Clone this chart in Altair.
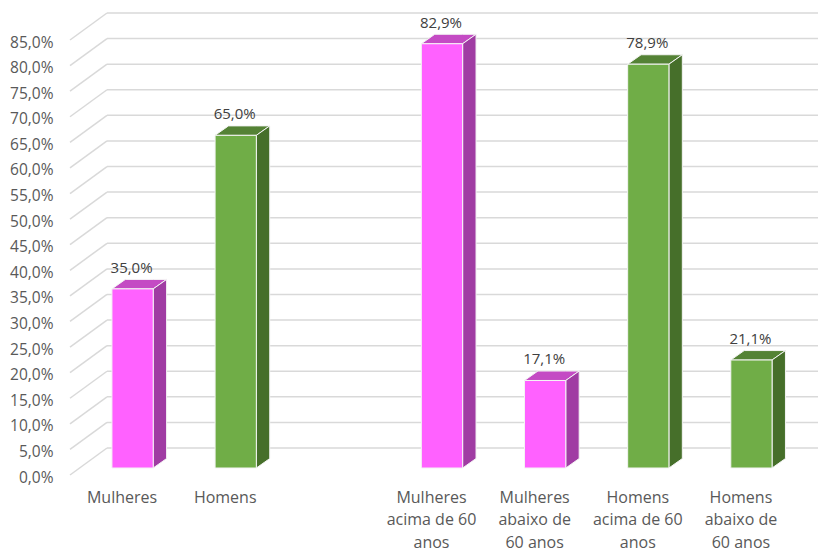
import altair as alt
import pandas as pd

# ---- data ----
categories = [
    "Mulheres",
    "Homens",
    "",
    "Mulheres\nacima de 60\nanos",
    "Mulheres\nabaixo de\n60 anos",
    "Homens\nacima de 60\nanos",
    "Homens\nabaixo de\n60 anos",
]
values = [35.0, 65.0, None, 82.9, 17.1, 78.9, 21.1]
groups = ["f", "m", None, "f", "f", "m", "m"]
y_ticks = [0, 5, 10, 15, 20, 25, 30, 35, 40, 45, 50, 55, 60, 65, 70, 75, 80, 85]

# ---- styling ----
palette = {
    "f": {"front": "#FF61FF", "top": "#C44BC4", "side": "#A03CA3"},
    "m": {"front": "#70AD47", "top": "#548235", "side": "#466F2A"},
}
HALF = 0.2   # half bar width (slot units)
DX = 0.13    # depth in x (slot units)
DY = 1.85    # depth in y (value units)
FONT = "Open Sans"
TXT = "#595959"

front_rows, face_rows, label_rows = [], [], []
for i, (c, v, g) in enumerate(zip(categories, values, groups)):
    if v is None:
        continue
    col = palette[g]
    front_rows.append({"x0": i - HALF, "x1": i + HALF, "v": v, "color": col["front"]})
    pid = f"top{i}"
    for x, y, y2 in [(i - HALF, v, v), (i - HALF + DX, v, v + DY),
                     (i + HALF, v, v + DY), (i + HALF + DX, v + DY, v + DY)]:
        face_rows.append({"poly": pid, "x": x, "y": y, "y2": y2, "color": col["top"]})
    pid = f"side{i}"
    for x, y, y2 in [(i + HALF, 0, v), (i + HALF + DX, DY, v + DY)]:
        face_rows.append({"poly": pid, "x": x, "y": y, "y2": y2, "color": col["side"]})
    label_rows.append({"x": i, "v": v, "label": f"{v:.1f}".replace(".", ",") + "%"})

front_df = pd.DataFrame(front_rows)
face_df = pd.DataFrame(face_rows)
label_df = pd.DataFrame(label_rows)
tick_df = pd.DataFrame({"t": y_ticks})

label_expr_x = "[" + ",".join(
    "[" + ",".join("'" + line + "'" for line in c.split("\n")) + "]" for c in categories
) + "][datum.value]"
x_tick_vals = [i for i, v in enumerate(values) if v is not None]

xscale = alt.Scale(domain=[-0.5, 6.5], nice=False, zero=False)
yscale = alt.Scale(domain=[0, 85], nice=False)

x_axis = alt.Axis(values=x_tick_vals, labelExpr=label_expr_x, grid=False, domain=False,
                  ticks=False, labelPadding=21, labelOffset=-11, labelLineHeight=22.5,
                  labelFont=FONT, labelFontSize=16, labelColor=TXT, title=None,
                  labelOverlap=False, labelFlush=False, labelBound=False)
y_axis = alt.Axis(values=y_ticks,
                  labelExpr="replace(format(datum.value, '.1f'), '.', ',') + '%'",
                  grid=False, domain=False, ticks=False, labelPadding=28, labelOffset=9,
                  labelFont=FONT, labelFontSize=15.5, labelColor=TXT, title=None,
                  labelOverlap=False)

grid_slant = alt.Chart(tick_df).mark_rule(color="#d9d9d9", strokeWidth=1.5,
                                          yOffset=7, y2Offset=-20).encode(
    x=alt.value(-11), x2=alt.value(26),
    y=alt.Y("t:Q", scale=yscale, axis=y_axis), y2="t:Q")
grid_h = alt.Chart(tick_df).mark_rule(color="#d9d9d9", strokeWidth=1.5,
                                      yOffset=-20).encode(
    x=alt.value(26), x2=alt.value(737),
    y=alt.Y("t:Q", scale=yscale, axis=y_axis))

front = alt.Chart(front_df).mark_rect(stroke="#f4f4f4", strokeWidth=1).encode(
    x=alt.X("x0:Q", scale=xscale, axis=x_axis), x2="x1:Q",
    y=alt.Y("v:Q", scale=yscale, axis=y_axis), y2=alt.datum(0),
    color=alt.Color("color:N", scale=None))

faces = alt.Chart(face_df).mark_area(orient="vertical", stroke="#f4f4f4", strokeWidth=1,
                                     interpolate="linear").encode(
    x=alt.X("x:Q", scale=xscale, axis=x_axis),
    y=alt.Y("y:Q", scale=yscale, axis=y_axis), y2="y2:Q",
    detail="poly:N",
    color=alt.Color("color:N", scale=None))

labels = alt.Chart(label_df).mark_text(font=FONT, fontSize=15, color="#404040",
                                       dy=-21, dx=-1).encode(
    x=alt.X("x:Q", scale=xscale, axis=x_axis),
    y=alt.Y("v:Q", scale=yscale, axis=y_axis),
    text="label:N")

chart = alt.layer(grid_slant, grid_h, faces, front, labels).properties(
    width=722, height=435,
    autosize=alt.AutoSizeParams(type="none"),
    padding={"left": 81, "top": 33, "right": 15, "bottom": 85},
    background="white",
).configure_view(stroke=None)

chart.save("out.html", embed_options={"renderer": "svg", "actions": False})
